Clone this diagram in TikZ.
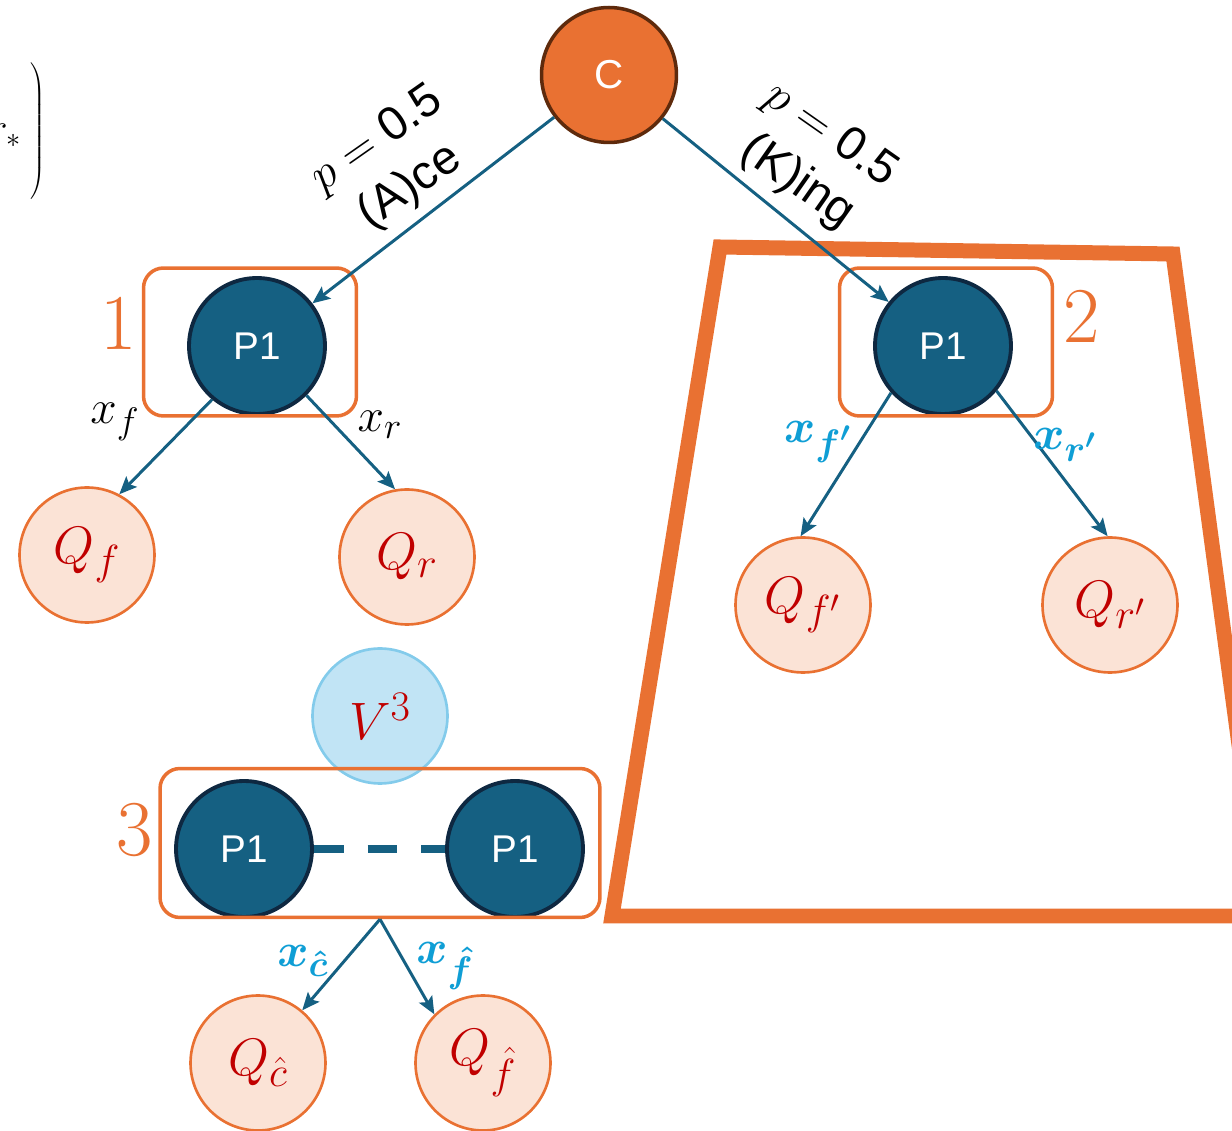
\RequirePackage{fix-cm}
\documentclass[tikz,border=0pt]{standalone}
\usepackage{bm}
\usepackage{fontspec}
\setsansfont{Liberation Sans}
\usetikzlibrary{arrows.meta,positioning}
\DeclareMathSizes{30}{30}{24}{18}
\DeclareMathSizes{27}{27}{21}{16}

\definecolor{accentblue}{HTML}{156082}
\definecolor{accentorange}{HTML}{E97132}
\definecolor{darknavy}{HTML}{0E2841}
\definecolor{cborder}{HTML}{5E2A0C}
\definecolor{qfill}{HTML}{FBE3D6}
\definecolor{qred}{HTML}{C00000}
\definecolor{labelblue}{HTML}{0F9ED5}
\definecolor{vfill}{HTML}{C1E4F5}
\definecolor{vborder}{HTML}{83CBEB}

\tikzset{
  chance/.style={circle, fill=accentorange, draw=cborder, line width=2pt,
    minimum size=2.7cm, text=white, font=\sffamily\fontsize{23}{26}\selectfont},
  player/.style={circle, fill=accentblue, draw=darknavy, line width=2.2pt,
    minimum size=2.72cm, text=white, font=\sffamily\fontsize{22}{25}\selectfont},
  qnode/.style={circle, fill=qfill, draw=accentorange, line width=1.5pt,
    minimum size=2.7cm, text=qred, font=\fontsize{30}{34}\selectfont},
  vnode/.style={circle, fill=vfill, draw=vborder, line width=1.5pt,
    minimum size=2.7cm, text=qred, font=\fontsize{30}{34}\selectfont},
  infoset/.style={draw=accentorange, line width=2pt, rounded corners=0.4cm},
  move/.style={-{Stealth[length=10pt,width=8.5pt,inset=2pt]}, accentblue, line width=1.7pt},
  setlabel/.style={text=accentorange, font=\fontsize{45}{50}\selectfont},
  actlabel/.style={font=\fontsize{27}{31}\selectfont},
  bluelabel/.style={text=labelblue, font=\fontsize{27}{31}\selectfont},
  chancelabel/.style={align=center, font=\sffamily\fontsize{27}{33}\selectfont},
}

\begin{document}
\begin{tikzpicture}[x=0.02cm, y=-0.02cm]
    \useasboundingbox (0,0) rectangle (1232,1131);
    \clip (0,0) rectangle (1232,1131);

    % cut-off formula on the left
    \node[anchor=east, inner sep=0pt, font=\fontsize{23}{28}\selectfont] (formula) at (46,132)
        {$r_*\left.\vrule height 34pt depth 34pt width 0pt\right)$};

    % big frame round the King subtree
    \draw[accentorange, line width=0.3cm] (720,247) -- (1173,254) -- (1262,916) -- (612,916) -- cycle;

    % chance node and chance labels
    \node[chance] (C) at (609,75) {C};
    \node[chancelabel, rotate=35] (probA) at (394,164) {$p = \textsf{0.5}$\\(A)ce};
    \node[chancelabel, rotate=-35] (probK) at (814,159) {$p = \textsf{0.5}$\\(K)ing};

    % === Ace: info set 1 ===
    \node[player] (P1L) at (257,346) {P1};
    \node[qnode] (Qf) at (87,555) {$Q_f$};
    \node[qnode] (Qr) at (407,557) {$Q_r$};
    \node[infoset, minimum width=4.26cm, minimum height=2.96cm] (box1) at (250,342) {};
    \node[setlabel] (num1) at (119,323) {1};

    % === King: info set 2 ===
    \node[player] (P1R) at (943,346) {P1};
    \node[qnode] (Qfp) at (803,605) {$Q_{f'}$};
    \node[qnode] (Qrp) at (1110,605) {$Q_{r'}$};
    \node[infoset, minimum width=4.26cm, minimum height=2.96cm] (box2) at (946,342) {};
    \node[setlabel] (num2) at (1082,316) {2};

    % === merged info set 3 ===
    \node[vnode] (V3) at (380,716) {$V^3$};
    \node[player] (P1a) at (244,849) {P1};
    \node[player] (P1b) at (515,849) {P1};
    \draw[accentblue, line width=5pt, dash pattern=on 17pt off 13.5pt] (P1a) -- (P1b);
    \node[infoset, minimum width=8.8cm, minimum height=2.98cm] (box3) at (380,843) {};
    \node[setlabel] (num3) at (135,830) {3};
    \node[qnode] (Qc) at (258,1063) {$Q_{\hat{c}}$};
    \node[qnode] (Qfh) at (483,1063) {$Q_{\hat{f}}$};

    % moves
    \draw[move] (C) -- (P1L);
    \draw[move] (C) -- (P1R);
    \draw[move] (P1L.230) -- (Qf.62);
    \draw[move] (P1L.-45) -- (Qr.100);
    \draw[move] (P1R.222) -- (Qfp.92);
    \draw[move] (P1R.-40) -- (Qrp.92);
    \draw[move] (box3.south) -- (Qc.50);
    \draw[move] (box3.south) -- (Qfh.135);

    % action labels
    \node[actlabel] (xf) at (115,422) {$x_f$};
    \node[actlabel] (xr) at (380,425) {$x_r$};
    \node[bluelabel] (xfp) at (818,442) {$\bm{x_{f'}}$};
    \node[bluelabel] (xrp) at (1065,445) {$\bm{x_{r'}}$};
    \node[bluelabel] (xc) at (303,961) {$\bm{x_{\hat{c}}}$};
    \node[bluelabel] (xfh) at (445,966) {$\bm{x_{\hat{f}}}$};
\end{tikzpicture}
\end{document}
